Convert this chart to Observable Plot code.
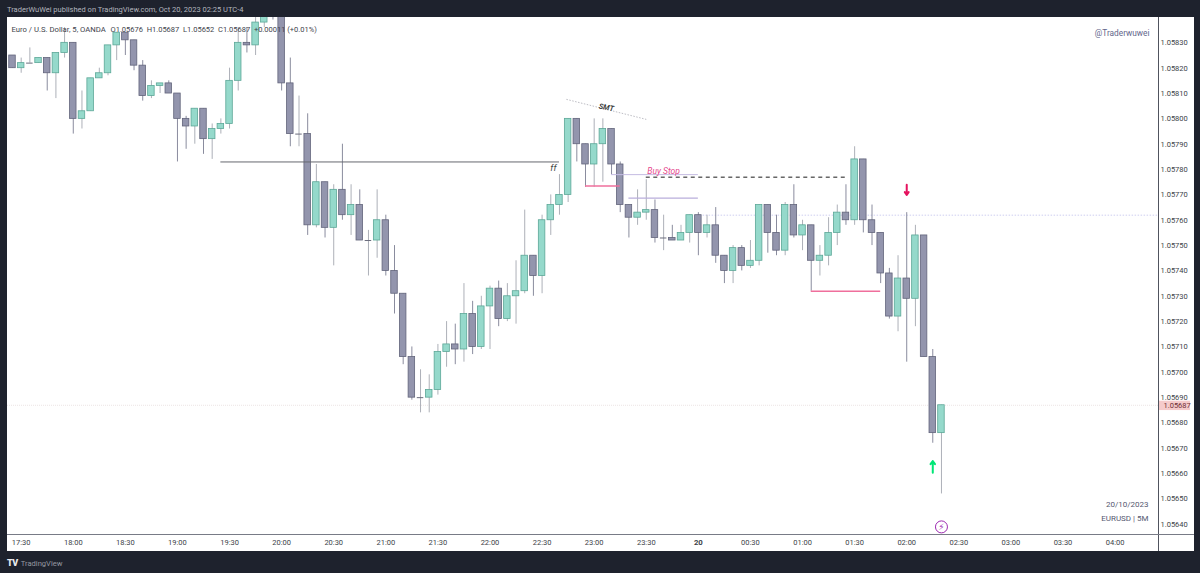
<!DOCTYPE html>
<html>
<head>
<meta charset="utf-8">
<script src="https://cdn.jsdelivr.net/npm/d3@7"></script>
<script src="https://cdn.jsdelivr.net/npm/@observablehq/plot@0.6"></script>
<style>
html,body{margin:0;padding:0;background:#1e222d;width:1200px;height:573px;overflow:hidden;font-family:Roboto,sans-serif;}
#head{height:17px;line-height:19px;padding-left:7px;color:#b2b5be;font-size:7.5px;white-space:nowrap;}
#chart{margin-left:7px;height:534px;}
#chart svg{display:block;}
#foot{height:22px;line-height:24px;padding-left:7px;color:#9598a1;font-size:7.6px;white-space:nowrap;}
#foot b{color:#e8e9ec;font-size:9px;font-weight:900;margin-right:3px;letter-spacing:-.5px;}
</style>
</head>
<body>
<div id="head">TraderWuWei published on TradingView.com, Oct 20, 2023 02:25 UTC-4</div>
<div id="chart"></div>
<div id="foot"><b>TV</b>TradingView</div>
<script>
const opens = [
1.05825,1.05820,1.05822,1.05822,1.05824,1.05818,1.05826,1.05830,1.05800,1.05803,
1.05816,1.05818,1.05829,1.05834,1.05831,1.05821,1.05809,1.05813,1.05814,1.05810,
1.05800,1.05797,1.05804,1.05792,1.05796,1.05798,1.05815,1.05830,1.05829,1.05838,
1.05846,1.05843,1.05814,1.05794,1.05794,1.05758,1.05775,1.05757,1.05772,1.05762,
1.05766,1.05752,1.05752,1.05760,1.05740,1.05731,1.05706,1.05690,1.05690,1.05693,
1.05708,1.05711,1.05709,1.05723,1.05710,1.05726,1.05733,1.05721,1.05730,1.05732,
1.05746,1.05738,1.05760,1.05766,1.05770,1.05800,1.05790,1.05782,1.05790,1.05796,
1.05782,1.05766,1.05761,1.05763,1.05764,1.05753,1.05753,1.05752,1.05755,1.05762,
1.05755,1.05758,1.05746,1.05740,1.05749,1.05742,1.05744,1.05766,1.05755,1.05748,
1.05766,1.05754,1.05758,1.05744,1.05746,1.05755,1.05763,1.05760,1.05784,1.05760,
1.05755,1.05739,1.05722,1.05737,1.05729,1.05754,1.05706,1.05676];
const closes = [
1.05820,1.05822,1.05822,1.05824,1.05818,1.05826,1.05830,1.05800,1.05803,1.05816,
1.05818,1.05829,1.05834,1.05831,1.05821,1.05809,1.05813,1.05814,1.05810,1.05800,
1.05797,1.05804,1.05792,1.05796,1.05798,1.05815,1.05830,1.05829,1.05838,1.05842,
1.05843,1.05814,1.05794,1.05794,1.05758,1.05775,1.05757,1.05772,1.05762,1.05766,
1.05752,1.05752,1.05760,1.05740,1.05731,1.05706,1.05690,1.05690,1.05693,1.05708,
1.05711,1.05709,1.05723,1.05710,1.05726,1.05733,1.05721,1.05730,1.05732,1.05746,
1.05738,1.05760,1.05766,1.05770,1.05800,1.05790,1.05782,1.05790,1.05796,1.05782,
1.05766,1.05761,1.05763,1.05764,1.05753,1.05753,1.05752,1.05755,1.05762,1.05755,
1.05758,1.05746,1.05740,1.05749,1.05742,1.05744,1.05766,1.05755,1.05748,1.05766,
1.05754,1.05758,1.05744,1.05746,1.05755,1.05763,1.05760,1.05784,1.05760,1.05755,
1.05739,1.05722,1.05737,1.05729,1.05754,1.05706,1.05676,1.05687];
const highs = [
1.05825,1.05824,1.05828,1.05824,1.05824,1.05826,1.05836,1.05830,1.05811,1.05816,
1.05820,1.05829,1.05834,1.05834,1.05831,1.05823,1.05815,1.05814,1.05815,1.05810,
1.05801,1.05804,1.05804,1.05798,1.05800,1.05820,1.05836,1.05836,1.05840,1.05844,
1.05847,1.05843,1.05824,1.05809,1.05802,1.05782,1.05775,1.05774,1.05790,1.05774,
1.05772,1.05756,1.05772,1.05762,1.05750,1.05731,1.05710,1.05701,1.05699,1.05711,
1.05720,1.05719,1.05735,1.05728,1.05730,1.05734,1.05736,1.05735,1.05744,1.05764,
1.05746,1.05762,1.05770,1.05778,1.05800,1.05800,1.05790,1.05800,1.05800,1.05796,
1.05783,1.05766,1.05772,1.05776,1.05768,1.05762,1.05758,1.05758,1.05762,1.05763,
1.05762,1.05765,1.05746,1.05750,1.05750,1.05752,1.05766,1.05766,1.05762,1.05767,
1.05774,1.05760,1.05758,1.05750,1.05761,1.05766,1.05774,1.05789,1.05784,1.05766,
1.05755,1.05741,1.05746,1.05763,1.05758,1.05754,1.05709,1.05687];
const lows = [
1.05820,1.05818,1.05822,1.05822,1.05811,1.05808,1.05824,1.05794,1.05796,1.05803,
1.05816,1.05817,1.05823,1.05825,1.05819,1.05807,1.05808,1.05810,1.05810,1.05783,
1.05788,1.05790,1.05786,1.05784,1.05794,1.05796,1.05811,1.05826,1.05825,1.05836,
1.05839,1.05811,1.05789,1.05789,1.05754,1.05757,1.05753,1.05742,1.05760,1.05754,
1.05752,1.05738,1.05745,1.05738,1.05723,1.05703,1.05689,1.05684,1.05684,1.05691,
1.05702,1.05703,1.05704,1.05707,1.05709,1.05709,1.05718,1.05720,1.05719,1.05731,
1.05730,1.05731,1.05754,1.05762,1.05767,1.05783,1.05773,1.05773,1.05775,1.05778,
1.05763,1.05753,1.05758,1.05760,1.05751,1.05748,1.05752,1.05752,1.05751,1.05746,
1.05753,1.05743,1.05735,1.05735,1.05740,1.05741,1.05742,1.05747,1.05746,1.05746,
1.05753,1.05748,1.05732,1.05738,1.05742,1.05750,1.05758,1.05758,1.05755,1.05750,
1.05735,1.05721,1.05716,1.05704,1.05718,1.05706,1.05672,1.05652];

const priceTicks = [1.0583,1.0582,1.0581,1.058,1.0579,1.0578,1.0577,1.0576,1.0575,1.0574,1.0573,1.0572,1.0571,1.057,1.0569,1.0568,1.0567,1.0566,1.0565,1.0564];
const timeLabels = ["17:30","18:00","18:30","19:00","19:30","20:00","20:30","21:00","21:30","22:00","22:30","23:00","23:30","20","00:30","01:00","01:30","02:00","02:30","03:00","03:30","04:00"];
const lastPrice = 1.05687;
const legendName = "Euro / U.S. Dollar, 5, OANDA";
const legendValues = "O1.05676  H1.05687  L1.05652  C1.05687  +0.00011 (+0.01%)";

const BAR_MS = 5 * 60000;
const START = Date.UTC(2023, 9, 19, 17, 25);
const barTime = i => new Date(START + i * BAR_MS);

const candles = opens.map((o, i) => ({i, t: barTime(i), o, c: closes[i], h: highs[i], l: lows[i], up: closes[i] >= o}));
const bodies = candles.filter(d => d.o !== d.c);
const dojis = candles.filter(d => d.o === d.c);
const halfBar = 0.375;

const timeTicks = timeLabels.map((s, k) => ({t: barTime(1 + 6 * k), s}));
const plainTicks = timeTicks.filter(d => d.s !== "20");
const dayTicks = timeTicks.filter(d => d.s === "20");
const labelOf = t => timeTicks.find(d => +d.t === +t)?.s ?? "";

const hLevels = [
  {a: 24, b: 63, p: 1.05783, color: "#66676f", w: 1},
  {a: 66, b: 70, p: 1.057735, color: "#ef6f9c", w: 1.4},
  {a: 69, b: 79, p: 1.05778, color: "#c4bbe2", w: 1},
  {a: 71, b: 79, p: 1.057687, color: "#b9aedb", w: 1.2},
  {a: 92, b: 100, p: 1.05732, color: "#ef6f9c", w: 1.4}
];
const AXIS = 132;

const chart = Plot.plot({
  width: 1187, height: 534,
  marginLeft: 0, marginTop: 0, marginRight: 36, marginBottom: 17,
  style: {background: "#ffffff", fontFamily: "Roboto, sans-serif", fontSize: "7.5px", color: "#3c3f48"},
  x: {type: "utc", domain: [barTime(-0.576), barTime(AXIS)]},
  y: {domain: [1.05636, 1.0584]},
  marks: [
    Plot.ruleY([lastPrice], {x1: barTime(-0.576), x2: barTime(AXIS), stroke: "#ece4e4", strokeDasharray: "1,1"}),
    Plot.ruleY([1.05762], {x1: barTime(79.2), x2: barTime(AXIS), stroke: "#cfcff0", strokeDasharray: "1.5,1.5"}),
    Plot.ruleX(candles, {x: "t", y1: "l", y2: "h", stroke: d => d.up ? "#adb0b8" : "#8a8c9e", strokeWidth: 1, clip: true}),
    Plot.rect(bodies, {
      x1: d => barTime(d.i - halfBar), x2: d => barTime(d.i + halfBar),
      y1: "o", y2: "c",
      fill: d => d.up ? "#95d9cb" : "#9395ad",
      stroke: d => d.up ? "#5ca797" : "#62647b",
      strokeWidth: 0.8, clip: true
    }),
    Plot.ruleY(dojis, {x1: d => barTime(d.i - halfBar), x2: d => barTime(d.i + halfBar), y: "o", stroke: "#6a6c7c", strokeWidth: 1}),
    Plot.ruleY(hLevels, {x1: d => barTime(d.a), x2: d => barTime(d.b), y: "p", stroke: "color", strokeWidth: "w"}),
    Plot.ruleY([1.05777], {x1: barTime(73), x2: barTime(96), stroke: "#1a1a1a", strokeWidth: 1, strokeDasharray: "4,3.5"}),
    Plot.link([{}], {x1: barTime(63.8), y1: 1.058077, x2: barTime(73), y2: 1.057998, stroke: "#bdbdc4", strokeDasharray: "1.5,1.5"}),
    Plot.text(["ff"], {x: barTime(62.3), y: 1.057805, fontStyle: "italic", fontSize: 9, fill: "#444"}),
    Plot.text(["SMT"], {x: barTime(68.4), y: 1.058045, rotate: 10, fontStyle: "italic", fontWeight: 600, fontSize: 7.5, fill: "#333"}),
    Plot.text(["Buy Stop"], {x: barTime(75), y: 1.057795, fontStyle: "italic", fontSize: 8.5, fill: "#e5478c"}),
    Plot.arrow([{}], {x: barTime(103), y1: 1.05774, y2: 1.0577, stroke: "#e5135f", strokeWidth: 2, headLength: 5, headAngle: 70, bend: 0, insetStart: 0, insetEnd: 0}),
    Plot.arrow([{}], {x: barTime(106), y1: 1.056604, y2: 1.05665, stroke: "#00e676", strokeWidth: 2, headLength: 5, headAngle: 70, bend: 0, insetStart: 0, insetEnd: 0}),
    Plot.dot([{}], {x: barTime(107), y: 1.05639, r: 6, fill: "#fff", stroke: "#9c27b0", strokeWidth: 1}),
    Plot.text(["⚡"], {x: barTime(107), y: 1.05639, fontSize: 9, fill: "#9c27b0", fontFamily: "DejaVu Sans"}),
    Plot.text([legendName], {frameAnchor: "top-left", dx: 4, dy: 9, textAnchor: "start", fontSize: 7.7, fill: "#41434c"}),
    Plot.text([legendValues], {frameAnchor: "top-left", dx: 103, dy: 9, textAnchor: "start", fontSize: 7.5, fill: "#41434c"}),
    Plot.text(["@Traderwuwei"], {frameAnchor: "top-right", dx: -9, dy: 13, textAnchor: "end", fontSize: 8.3, fill: "#62658a"}),
    Plot.text(["20/10/2023"], {frameAnchor: "bottom-right", dx: -10, dy: -28, textAnchor: "end", fontSize: 8, fill: "#555870"}),
    Plot.text(["EURUSD | 5M"], {frameAnchor: "bottom-right", dx: -10, dy: -14, textAnchor: "end", fontSize: 8, fill: "#555870"}),
    Plot.axisX({ticks: plainTicks.map(d => d.t), tickFormat: labelOf, tickSize: 0, tickPadding: 5, fontSize: 7.5, label: null}),
    Plot.axisX({ticks: dayTicks.map(d => d.t), tickFormat: labelOf, tickSize: 0, tickPadding: 5, fontSize: 7.8, fontWeight: 700, label: null}),
    Plot.axisY({ticks: priceTicks, anchor: "right", tickFormat: d => d.toFixed(5), tickSize: 0, tickPadding: 2, fontSize: 7.5, label: null}),
    Plot.rect([{}], {x1: barTime(AXIS), x2: barTime(AXIS + 3.68), y1: 1.056849, y2: 1.056886, fill: "#f5cbcb"}),
    Plot.text([lastPrice], {x: barTime(AXIS), y: lastPrice, dx: 5, textAnchor: "start", text: d => d.toFixed(5), fontSize: 7.5, fill: "#6f2f37"}),
    Plot.ruleX([barTime(AXIS)], {y1: 1.0584, y2: 1.05629, stroke: "#50535e", strokeWidth: 1}),
    Plot.ruleY([1.05636], {x1: barTime(-0.576), x2: barTime(AXIS + 4.14), stroke: "#787b86", strokeWidth: 1})
  ]
});
document.getElementById("chart").append(chart);
</script>
</body>
</html>
